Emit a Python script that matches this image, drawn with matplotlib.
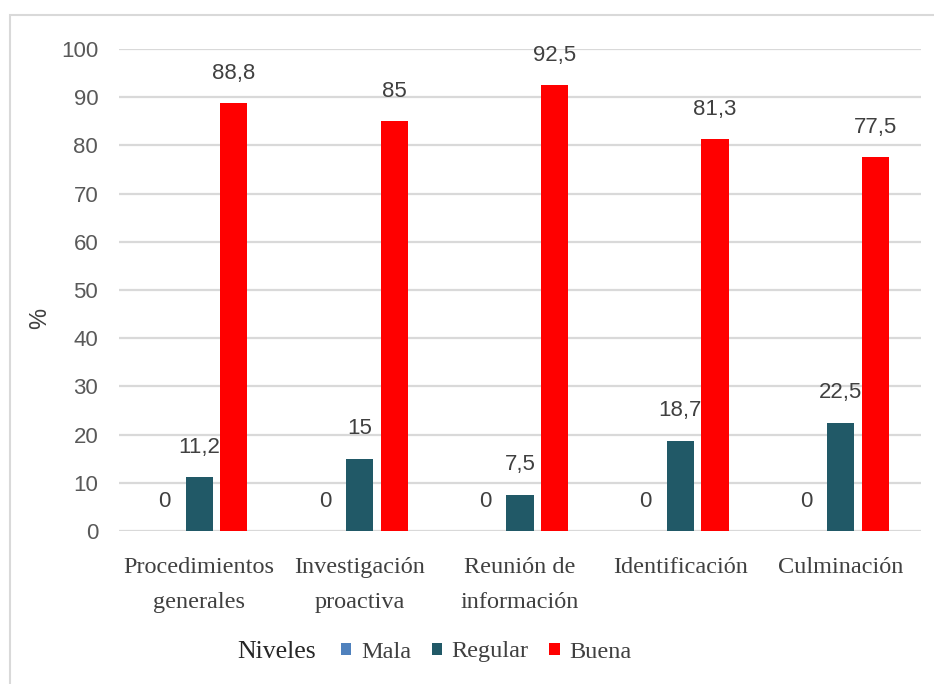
import matplotlib
matplotlib.use("Agg")
import matplotlib.pyplot as plt
from matplotlib import font_manager
from matplotlib.patches import Rectangle, Patch
import numpy as np

categories = ["Procedimientos\ngenerales", "Investigación\nproactiva", "Reunión de\ninformación",
              "Identificación", "Culminación"]
series_names = ["Mala", "Regular", "Buena"]
mala = [0, 0, 0, 0, 0]
regular = [11.2, 15, 7.5, 18.7, 22.5]
buena = [88.8, 85, 92.5, 81.3, 77.5]
yticks = [0, 10, 20, 30, 40, 50, 60, 70, 80, 90, 100]

colors = ["#4F81BD", "#215967", "#FF0000"]

names = {f.name for f in font_manager.fontManager.ttflist}
sans = "Liberation Sans Narrow" if "Liberation Sans Narrow" in names else "Liberation Sans"
serif = "Liberation Serif"

fig = plt.figure(figsize=(9.34, 6.84), dpi=100)
ax = fig.add_axes([0.1274, 0.2237, 0.986 - 0.1274, 0.9284 - 0.2237])

x = np.arange(len(categories))
w = 0.17
off = 0.216
data = [mala, regular, buena]
for i, (vals, c) in enumerate(zip(data, colors)):
    bars = ax.bar(x + (i - 1) * off, vals, width=w, color=c, zorder=3)
    for b, v in zip(bars, vals):
        lab = ("%g" % v).replace(".", ",")
        ax.annotate(lab, (b.get_x() + b.get_width() / 2, v), xytext=(0, 14),
                    textcoords="offset points", ha="center", va="bottom",
                    fontsize=16, family=sans, color="#404040")

ax.set_xlim(-0.5, len(categories) - 0.5)
ax.set_ylim(0, 100)
ax.set_yticks(yticks)
ax.set_yticklabels([str(t) for t in yticks], family=sans, fontsize=16, color="#595959")
ax.set_xticks(x)
ax.set_xticklabels(categories, family=serif, fontsize=17.5, color="#404040", linespacing=1.85)
ax.tick_params(axis="both", length=0)
ax.tick_params(axis="y", pad=15)
ax.tick_params(axis="x", pad=19)
ax.yaxis.grid(True, color="#D9D9D9", linewidth=1.6, zorder=0)
ax.set_axisbelow(True)
for s in ax.spines.values():
    s.set_visible(False)

fig.text(40 / 934, 1 - 318 / 684, "%", rotation=90, family=sans, fontsize=17,
         color="#404040", ha="center", va="center")

# legend
fig.text(237 / 934, 1 - 652 / 684, "Niveles", family=serif, fontsize=18.5,
         color="#262626", ha="left", va="center")
handles = [Patch(facecolor=c, edgecolor="none") for c in colors]
leg = fig.legend(handles, series_names, loc="center left",
                 bbox_to_anchor=(341 / 934, 1 - 652 / 684), ncol=3, frameon=False,
                 prop={"family": serif, "size": 17.5}, handlelength=0.42, handleheight=0.42,
                 handletextpad=0.4, columnspacing=0.85, borderaxespad=0, borderpad=0)
for t in leg.get_texts():
    t.set_color("#404040")

# outer chart border
fig.patches.append(Rectangle((10 / 934, -0.1), 1.2, 1 - 15 / 684 + 0.1,
                             transform=fig.transFigure, fill=False,
                             edgecolor="#D9D9D9", linewidth=1.5))

fig.savefig("out.png", dpi=100)
